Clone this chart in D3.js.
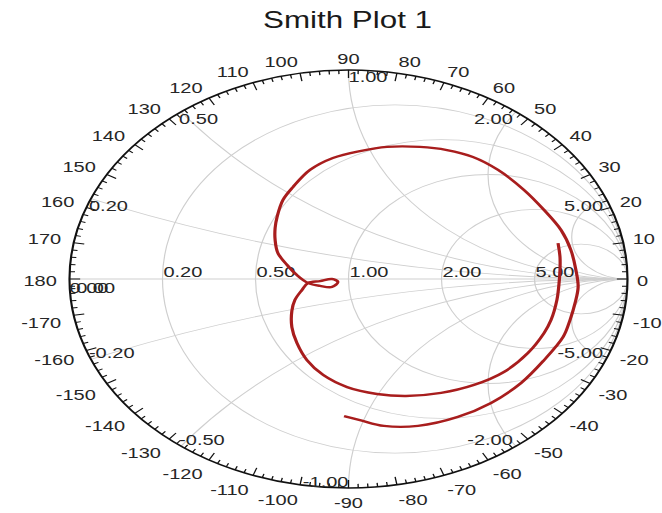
<!DOCTYPE html>
<html><head><meta charset="utf-8">
<script src="https://cdn.jsdelivr.net/npm/d3@7"></script>
<style>html,body{margin:0;padding:0;background:#fff;} svg{display:block;}</style>
</head><body>
<svg id="chart" width="662" height="513"></svg>
<script>
// ---------------- data ----------------
const chartTitle = "Smith Plot 1";
const resistanceValues = [0.2, 0.5, 1, 2, 5];
const resistanceLabels = ["0.20", "0.50", "1.00", "2.00", "5.00"];
const reactanceValues = [0.2, 0.5, 1, 2, 5, -0.2, -0.5, -1, -2, -5];
const reactanceLabels = ["0.20", "0.50", "1.00", "2.00", "5.00", "-0.20", "-0.50", "-1.00", "-2.00", "-5.00"];
const edgeLabels = ["0.00", "-0.00"];
const angleLabelValues = [0, 10, 20, 30, 40, 50, 60, 70, 80, 90, 100, 110, 120, 130, 140, 150, 160, 170, 180,
  -170, -160, -150, -140, -130, -120, -110, -100, -90, -80, -70, -60, -50, -40, -30, -20, -10];
const s11Re = [0.751, 0.758, 0.758, 0.754, 0.747, 0.726, 0.701, 0.643, 0.557, 0.450, 0.332, 0.206, 0.102, -0.005,
  -0.091, -0.149, -0.185, -0.203, -0.203, -0.192, -0.167, -0.145, -0.102, -0.059, -0.038, -0.059, -0.102, -0.145,
  -0.185, -0.220, -0.253, -0.263, -0.263, -0.256, -0.235, -0.199, -0.138, -0.056, 0.041, 0.138, 0.256, 0.353, 0.446,
  0.536, 0.629, 0.701, 0.762, 0.797, 0.815, 0.823, 0.812, 0.794, 0.769, 0.701, 0.618, 0.511, 0.392, 0.249, 0.127,
  0.041, -0.016];
const s11Im = [0.172, 0.105, 0.043, -0.029, -0.100, -0.196, -0.258, -0.354, -0.445, -0.507, -0.545, -0.560, -0.550,
  -0.517, -0.459, -0.388, -0.306, -0.230, -0.153, -0.100, -0.053, -0.019, -0.010, 0.000, -0.014, -0.038, -0.033,
  -0.019, 0.019, 0.067, 0.124, 0.187, 0.244, 0.297, 0.378, 0.440, 0.522, 0.579, 0.612, 0.632, 0.632, 0.617, 0.584,
  0.522, 0.426, 0.330, 0.234, 0.139, 0.043, -0.038, -0.115, -0.196, -0.278, -0.388, -0.498, -0.593, -0.660, -0.703,
  -0.703, -0.675, -0.656];

// ---------------- layout ----------------
const S = 1.335;             // horizontal stretch of the whole picture
const cx0 = 348.5 / S, cy = 279, R = 209;
const FONT = "'Liberation Sans', Arial, Helvetica, sans-serif";
const gridColor = "#cfcfcf";

const svg = d3.select("#chart");
svg.append("rect").attr("width", 662).attr("height", 513).attr("fill", "#fff");
const g = svg.append("g").attr("transform", `scale(${S},1)`);

const xS = d3.scaleLinear().domain([-1, 1]).range([cx0 - R, cx0 + R]);
const yS = d3.scaleLinear().domain([-1, 1]).range([cy + R, cy - R]);
const pr = v => xS(v) - xS(0);   // radius in pixels

svg.append("defs").append("clipPath").attr("id", "unit")
  .append("circle").attr("cx", xS(0)).attr("cy", yS(0)).attr("r", pr(1));

// title
svg.append("text").attr("x", 0).attr("y", 0)
  .attr("transform", `translate(${xS(0) * S - 1},28) scale(${S},1)`)
  .attr("text-anchor", "middle").attr("font-family", FONT).attr("font-size", 23.5)
  .attr("fill", "#1a1a1a").text(chartTitle);

// grid
const grid = g.append("g").attr("clip-path", "url(#unit)").attr("fill", "none")
  .attr("stroke", gridColor).attr("stroke-width", 0.9);
grid.append("line").attr("x1", xS(-1)).attr("x2", xS(1)).attr("y1", yS(0)).attr("y2", yS(0));
grid.selectAll("circle.r").data(resistanceValues).join("circle").attr("class", "r")
  .attr("cx", r => xS(r / (1 + r))).attr("cy", yS(0)).attr("r", r => pr(1 / (1 + r)));
grid.selectAll("circle.x").data(reactanceValues).join("circle").attr("class", "x")
  .attr("cx", xS(1)).attr("cy", x => yS(1 / x)).attr("r", x => pr(1 / Math.abs(x)));

// outer circle + ticks
g.append("circle").attr("cx", xS(0)).attr("cy", yS(0)).attr("r", pr(1))
  .attr("fill", "none").attr("stroke", "#111").attr("stroke-width", 1.6);
const tickAngles = d3.range(-180, 180, 2);
g.selectAll("line.tick").data(tickAngles).join("line").attr("class", "tick")
  .each(function (a) {
    const t = a * Math.PI / 180, len = (a % 10 === 0) ? 8 : 4, k = 1 - len / R;
    d3.select(this).attr("x1", xS(Math.cos(t))).attr("y1", yS(Math.sin(t)))
      .attr("x2", xS(k * Math.cos(t))).attr("y2", yS(k * Math.sin(t)));
  })
  .attr("stroke", "#111").attr("stroke-width", 1);

const textStyle = sel => sel.attr("font-family", FONT).attr("font-size", 15).attr("fill", "#262626");

// angle labels
g.selectAll("text.ang").data(angleLabelValues).join("text").attr("class", "ang")
  .each(function (a) {
    const t = a * Math.PI / 180, c = Math.cos(t), s = Math.sin(t);
    const px = xS(c), py = yS(s);
    let anchor = "middle", x = px;
    if (c > 0.05) { anchor = "start"; x = px + 7.2 * c; }
    else if (c < -0.05) { anchor = "end"; x = px + 9.5 * c; }
    const yc = py + (s >= 0 ? -1 : 1) * 13.25 * Math.sqrt(Math.abs(s)) + 1.75;
    d3.select(this).attr("x", x).attr("y", yc + 5.3).attr("text-anchor", anchor);
  })
  .call(textStyle).text(a => String(a));

// resistance labels
g.selectAll("text.rl").data(resistanceValues).join("text").attr("class", "rl")
  .attr("x", r => xS((r - 1) / (r + 1)) + 0.7).attr("y", yS(0) - 1.5)
  .attr("text-anchor", "start").call(textStyle)
  .text((r, i) => resistanceLabels[i]);

// reactance labels
g.selectAll("text.xl").data(reactanceValues).join("text").attr("class", "xl")
  .each(function (x) {
    const t = Math.PI - 2 * Math.atan(x);
    const px = xS(Math.cos(t)), py = yS(Math.sin(t));
    const ax = Math.abs(x);
    let anchor, dx;
    if (x > 0) { anchor = ax <= 1 ? "start" : "end"; }
    else { anchor = ax < 1 ? "start" : "end"; }
    dx = anchor === "start" ? (ax === 1 ? 0 : -2 / S) : (ax === 1 ? 0 : -3 / S);
    const y = x > 0 ? py + 12.5 : py - 1;
    d3.select(this).attr("x", px + dx).attr("y", y).attr("text-anchor", anchor);
  })
  .call(textStyle).text((x, i) => reactanceLabels[i]);

// labels at the short-circuit point
g.selectAll("text.el").data(edgeLabels).join("text").attr("class", "el")
  .attr("x", xS(-1)).attr("y", yS(0) + 14).attr("text-anchor", "start")
  .call(textStyle).text(d => d);

// trace
const trace = s11Re.map((re, i) => ({ re, im: s11Im[i] }));
const line = d3.line().x(d => xS(d.re)).y(d => yS(d.im)).curve(d3.curveCatmullRom.alpha(0.5));
g.append("path").datum(trace).attr("d", line).attr("fill", "none")
  .attr("stroke", "#a81d1d").attr("stroke-width", 2.4)
  .attr("stroke-linejoin", "round").attr("stroke-linecap", "butt");
</script>
</body></html>
